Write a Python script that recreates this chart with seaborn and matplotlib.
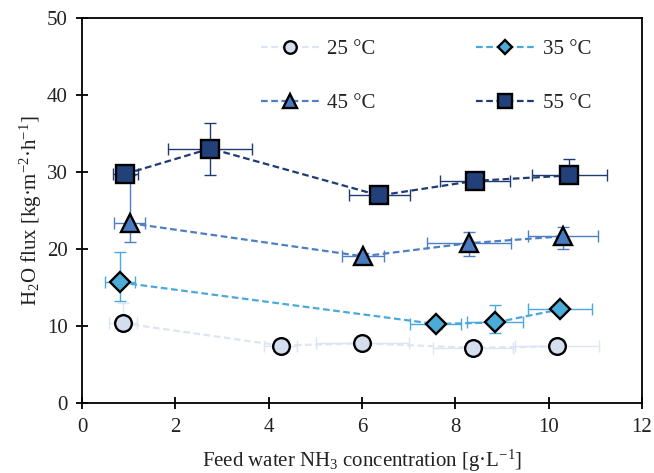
import numpy as np
import pandas as pd
import matplotlib
matplotlib.use("Agg")
import matplotlib.pyplot as plt
import seaborn as sns

# ---- data ----
labels = ["25 °C", "35 °C", "45 °C", "55 °C"]

x25 = [0.87, 4.26, 6.01, 8.38, 10.17]
y25 = [10.4, 7.5, 7.8, 7.2, 7.4]
x25_err = [0.3, 0.35, 1.0, 0.85, 0.9]
y25_err_lo = [0.3, 0.3, 0.3, 0.3, 0.3]
y25_err_hi = [2.6, 0.3, 0.3, 0.3, 0.3]

x35 = [0.82, 7.58, 8.86, 10.24]
y35 = [15.7, 10.3, 10.5, 12.2]
x35_err = [0.32, 0.55, 0.6, 0.69]
y35_err_lo = [2.4, 0.6, 1.4, 0.3]
y35_err_hi = [4.0, 0.3, 2.3, 0.3]

x45 = [1.02, 6.02, 8.29, 10.31]
y45 = [23.4, 19.1, 20.8, 21.7]
x45_err = [0.34, 0.45, 0.9, 0.75]
y45_err_lo = [2.4, 0.4, 1.7, 1.6]
y45_err_hi = [6.3, 0.4, 1.4, 1.2]

x55 = [0.93, 2.75, 6.37, 8.42, 10.44]
y55 = [29.8, 33.1, 27.0, 28.9, 29.6]
x55_err = [0.26, 0.9, 0.65, 0.75, 0.8]
y55_err_lo = [0.4, 3.5, 0.4, 0.4, 0.4]
y55_err_hi = [0.4, 3.3, 0.4, 0.4, 2.1]

xs = [x25, x35, x45, x55]
ys = [y25, y35, y45, y55]
xerrs = [x25_err, x35_err, x45_err, x55_err]
yerrs = [(y25_err_lo, y25_err_hi), (y35_err_lo, y35_err_hi),
         (y45_err_lo, y45_err_hi), (y55_err_lo, y55_err_hi)]

# ---- style ----
sns.set_theme(style="ticks")
plt.rcParams["font.family"] = ["Liberation Serif", "DejaVu Serif"]
plt.rcParams["mathtext.fontset"] = "custom"
plt.rcParams["mathtext.rm"] = "Liberation Serif"
plt.rcParams["mathtext.it"] = "Liberation Serif:italic"

line_colors = ["#dce5f2", "#4aa8db", "#4e7fc4", "#1f3b74"]
face_colors = ["#d5deef", "#4bacd8", "#4a7bbf", "#22407a"]
markers = ["o", "D", "^", "s"]
msizes = [12, 10, 13, 13]

fig = plt.figure(figsize=(6.54, 4.73), dpi=100)
ax = fig.add_axes([0.1254, 0.1474, 0.8563, 0.8136])

for i in range(4):
    ax.errorbar(xs[i], ys[i], xerr=xerrs[i], yerr=[yerrs[i][0], yerrs[i][1]],
                fmt="none", ecolor=line_colors[i], elinewidth=1.0,
                capsize=4, capthick=1.0, zorder=2 + i)
    df = pd.DataFrame({"x": xs[i], "y": ys[i]})
    sns.lineplot(data=df, x="x", y="y", ax=ax, color=line_colors[i],
                 linestyle=(0, (3, 1.6)), linewidth=1.6, marker=markers[i],
                 markersize=msizes[i], markerfacecolor=face_colors[i],
                 markeredgecolor="black", markeredgewidth=1.7,
                 sort=False, zorder=3 + i, label=labels[i])

ax.set_xlim(0, 12)
ax.set_ylim(0, 50)
ax.set_xticks(np.arange(0, 13, 2))
ax.set_yticks(np.arange(0, 51, 10))
for s in ax.spines.values():
    s.set_color("black")
    s.set_linewidth(1.3)
ax.tick_params(axis="both", which="both", direction="inout", length=9,
               width=1.3, color="black", labelsize=15, labelcolor="#222222",
               pad=6)
ax.set_xlabel("Feed water NH$_3$ concentration [g·L$^{-1}$]", fontsize=15,
              color="#222222", labelpad=8)
ax.set_ylabel("H$_2$O flux [kg·m$^{-2}$·h$^{-1}$]", fontsize=15,
              color="#222222", labelpad=2)

h, l = ax.get_legend_handles_labels()
order = [0, 2, 1, 3]  # row-wise: 25, 35 / 45, 55
leg = ax.legend([h[k] for k in order], [l[k] for k in order], ncol=2,
                loc="upper center", bbox_to_anchor=(0.614, 0.993),
                frameon=False, fontsize=15, handlelength=2.8,
                columnspacing=4.8, labelspacing=1.65, handletextpad=0.4,
                numpoints=1, markerscale=0.75)
for t in leg.get_texts():
    t.set_color("#222222")

fig.savefig("out.png", dpi=100)
